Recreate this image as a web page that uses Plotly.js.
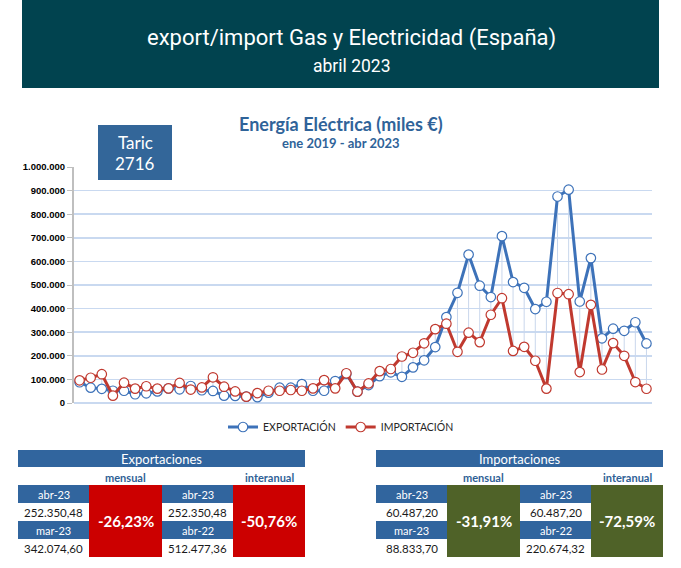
<!DOCTYPE html>
<html><head><meta charset="utf-8">
<script src="https://cdn.plot.ly/plotly-3.0.1.min.js"></script>
<style>html,body{margin:0;padding:0;background:#fff;} #chart{width:681px;height:568px;}</style>
</head><body><div id="chart"></div>
<script>
const months = ['ene-19','feb-19','mar-19','abr-19','may-19','jun-19','jul-19','ago-19','sep-19','oct-19','nov-19','dic-19',
  'ene-20','feb-20','mar-20','abr-20','may-20','jun-20','jul-20','ago-20','sep-20','oct-20','nov-20','dic-20',
  'ene-21','feb-21','mar-21','abr-21','may-21','jun-21','jul-21','ago-21','sep-21','oct-21','nov-21','dic-21',
  'ene-22','feb-22','mar-22','abr-22','may-22','jun-22','jul-22','ago-22','sep-22','oct-22','nov-22','dic-22',
  'ene-23','feb-23','mar-23','abr-23'];
const exportValues = [88000, 65000, 60000, 52000, 52000, 37000, 41000, 49000, 62000, 58000, 72000, 54000,
  51000, 31000, 30000, 27000, 25000, 44000, 65000, 65000, 80000, 52000, 52000, 93000,
  124000, 48000, 76000, 114000, 130000, 111000, 151000, 181000, 237000, 364000, 467000, 629000,
  497000, 449000, 707000, 512477.36, 488000, 398000, 429000, 875000, 904000, 430000, 614000, 274000,
  315000, 306000, 342074.60, 252350.48];
const importValues = [96000, 107000, 122000, 31000, 86000, 61000, 71000, 61000, 62000, 85000, 57000, 66000,
  109000, 69000, 49000, 27000, 42000, 52000, 52000, 55000, 52000, 62000, 97000, 62000,
  126000, 48000, 83000, 135000, 144000, 197000, 213000, 253000, 313000, 336000, 217000, 298000,
  258000, 374000, 444000, 220674.32, 238000, 179000, 61000, 466000, 461000, 131000, 416000, 142000,
  254000, 200000, 88833.70, 60487.20];
const yTickValues = [0, 100000, 200000, 300000, 400000, 500000, 600000, 700000, 800000, 900000, 1000000];
const seriesNames = ['EXPORTACIÓN', 'IMPORTACIÓN'];
const headerTitle = 'export/import Gas y Electricidad (España)';
const headerSubtitle = 'abril 2023';
const chartTitle = 'Energía Eléctrica (miles €)';
const chartSubtitle = 'ene 2019 - abr 2023';
const taricLines = ['Taric', '2716'];
const tableTitles = ['Exportaciones', 'Importaciones'];
const periodLabels = ['mensual', 'interanual'];
const monthlyPeriods = ['abr-23', 'mar-23'];
const yearlyPeriods = ['abr-23', 'abr-22'];
const expMonthlyValues = ['252.350,48', '342.074,60'];
const expYearlyValues = ['252.350,48', '512.477,36'];
const impMonthlyValues = ['60.487,20', '88.833,70'];
const impYearlyValues = ['60.487,20', '220.674,32'];
const expChanges = ['-26,23%', '-50,76%'];
const impChanges = ['-31,91%', '-72,59%'];

// plot area in pixels
const L = 74, R = 652, T = 167, B = 403;
const px = x => (x - L) / (R - L);
const py = y => (B - y) / (B - T);

const BLUE = '#3d72b9', RED = '#c0392f';
const CAL = 'Lato, "Open Sans", sans-serif';

// high-low lines
const hlX = [], hlY = [];
months.forEach((m, i) => { hlX.push(m, m, null); hlY.push(exportValues[i], importValues[i], null); });

const traces = [
  {x: hlX, y: hlY, mode: 'lines', line: {color: '#c9d7ec', width: 1}, showlegend: false, hoverinfo: 'skip', cliponaxis: false},
  {x: months, y: exportValues, name: seriesNames[0], mode: 'lines+markers', cliponaxis: false,
   line: {color: BLUE, width: 3}, marker: {symbol: 'circle', size: 9.5, color: '#ffffff', line: {color: BLUE, width: 1.2}}},
  {x: months, y: importValues, name: seriesNames[1], mode: 'lines+markers', cliponaxis: false,
   line: {color: RED, width: 3}, marker: {symbol: 'circle', size: 9.5, color: '#ffffff', line: {color: RED, width: 1.2}}}
];

const shapes = [];
const annotations = [];
function rect(x0, y0, x1, y1, fill) {
  shapes.push({type: 'rect', xref: 'paper', yref: 'paper', x0: px(x0), x1: px(x1), y0: py(y1), y1: py(y0),
    fillcolor: fill, line: {width: 0}, layer: 'above'});
}
function text(t, cx, cy, size, color, family, bold) {
  annotations.push({xref: 'paper', yref: 'paper', x: px(cx), y: py(cy), xanchor: 'center', yanchor: 'middle',
    text: bold ? '<b>' + t + '</b>' : t, showarrow: false, font: {size: size, color: color, family: family}});
}

// header band
rect(22, 0, 659, 88, '#01434f');
text(headerTitle, 351, 38, 22, '#ffffff', 'Roboto, sans-serif', false);
text(headerSubtitle, 351, 66, 17.5, '#ffffff', 'Roboto, sans-serif', false);

// chart titles
text(chartTitle, 341, 124, 18, '#2f6399', CAL, true);
text(chartSubtitle, 341, 143, 13, '#2f6399', CAL, true);

// Taric box
rect(98, 125, 172, 180, '#336699');
text(taricLines[0], 135, 142, 17, '#ffffff', CAL, false);
text(taricLines[1], 135, 163, 17, '#ffffff', CAL, false);

// tables
function table(x0, title, monthlyVals, yearlyVals, changes, changeColor) {
  const c = [x0, x0 + 71, x0 + 144, x0 + 215, x0 + 287];
  const r = [485, 503, 521, 539, 557];
  const TB = '#31659e';
  rect(c[0], 450, c[4], 467, TB);
  text(title, (c[0] + c[4]) / 2, 458.5, 13, '#ffffff', CAL, false);
  text(periodLabels[0], (c[1] + c[2]) / 2, 477, 11, '#2f5f96', CAL, true);
  text(periodLabels[1], (c[3] + c[4]) / 2, 477, 11, '#2f5f96', CAL, true);
  rect(c[0], r[0], c[1], r[1], TB);
  rect(c[0], r[2], c[1], r[3], TB);
  rect(c[2], r[0], c[3], r[1], TB);
  rect(c[2], r[2], c[3], r[3], TB);
  rect(c[1], r[0], c[2], r[4], changeColor);
  rect(c[3], r[0], c[4], r[4], changeColor);
  const mA = (c[0] + c[1]) / 2, mC = (c[2] + c[3]) / 2;
  text(monthlyPeriods[0], mA, (r[0] + r[1]) / 2, 11, '#ffffff', CAL, false);
  text(monthlyPeriods[1], mA, (r[2] + r[3]) / 2, 11, '#ffffff', CAL, false);
  text(yearlyPeriods[0], mC, (r[0] + r[1]) / 2, 11, '#ffffff', CAL, false);
  text(yearlyPeriods[1], mC, (r[2] + r[3]) / 2, 11, '#ffffff', CAL, false);
  text(monthlyVals[0], mA, (r[1] + r[2]) / 2, 11.5, '#1a1a1a', CAL, false);
  text(monthlyVals[1], mA, (r[3] + r[4]) / 2, 11.5, '#1a1a1a', CAL, false);
  text(yearlyVals[0], mC, (r[1] + r[2]) / 2, 11.5, '#1a1a1a', CAL, false);
  text(yearlyVals[1], mC, (r[3] + r[4]) / 2, 11.5, '#1a1a1a', CAL, false);
  text(changes[0], (c[1] + c[2]) / 2, 521, 15, '#ffffff', CAL, true);
  text(changes[1], (c[3] + c[4]) / 2, 521, 15, '#ffffff', CAL, true);
}
table(18, tableTitles[0], expMonthlyValues, expYearlyValues, expChanges, '#cc0000');
table(376, tableTitles[1], impMonthlyValues, impYearlyValues, impChanges, '#4f6228');

const layout = {
  width: 681, height: 568,
  margin: {l: L, r: 681 - R, t: T, b: 568 - B, pad: 0},
  paper_bgcolor: '#ffffff', plot_bgcolor: '#ffffff',
  separators: ',.',
  showlegend: true,
  legend: {orientation: 'h', x: px(341), xanchor: 'center', y: py(427), yanchor: 'middle',
    font: {family: CAL, size: 10.5, color: '#262626'}, bgcolor: 'rgba(0,0,0,0)', itemwidth: 30},
  xaxis: {type: 'category', categoryorder: 'array', categoryarray: months, range: [-0.5, 51.5],
    showticklabels: false, showgrid: false, zeroline: false, showline: false, ticks: ''},
  yaxis: {range: [0, 1000000], tickvals: yTickValues, tickformat: ',d', showgrid: true, gridcolor: '#c9d9f0', gridwidth: 1.5,
    zeroline: true, zerolinecolor: '#c9d9f0', zerolinewidth: 1.5,
    showline: true, linecolor: '#bfbfbf', linewidth: 2, ticks: 'outside', ticklen: 5, tickcolor: '#bfbfbf', tickwidth: 1,
    tickfont: {family: '"Liberation Sans", Arial, sans-serif', size: 9.5, color: '#000000', weight: 'bold'}},
  shapes: shapes,
  annotations: annotations,
  hovermode: false
};

Plotly.newPlot('chart', traces, layout, {displayModeBar: false, staticPlot: true});
</script>
</body></html>
